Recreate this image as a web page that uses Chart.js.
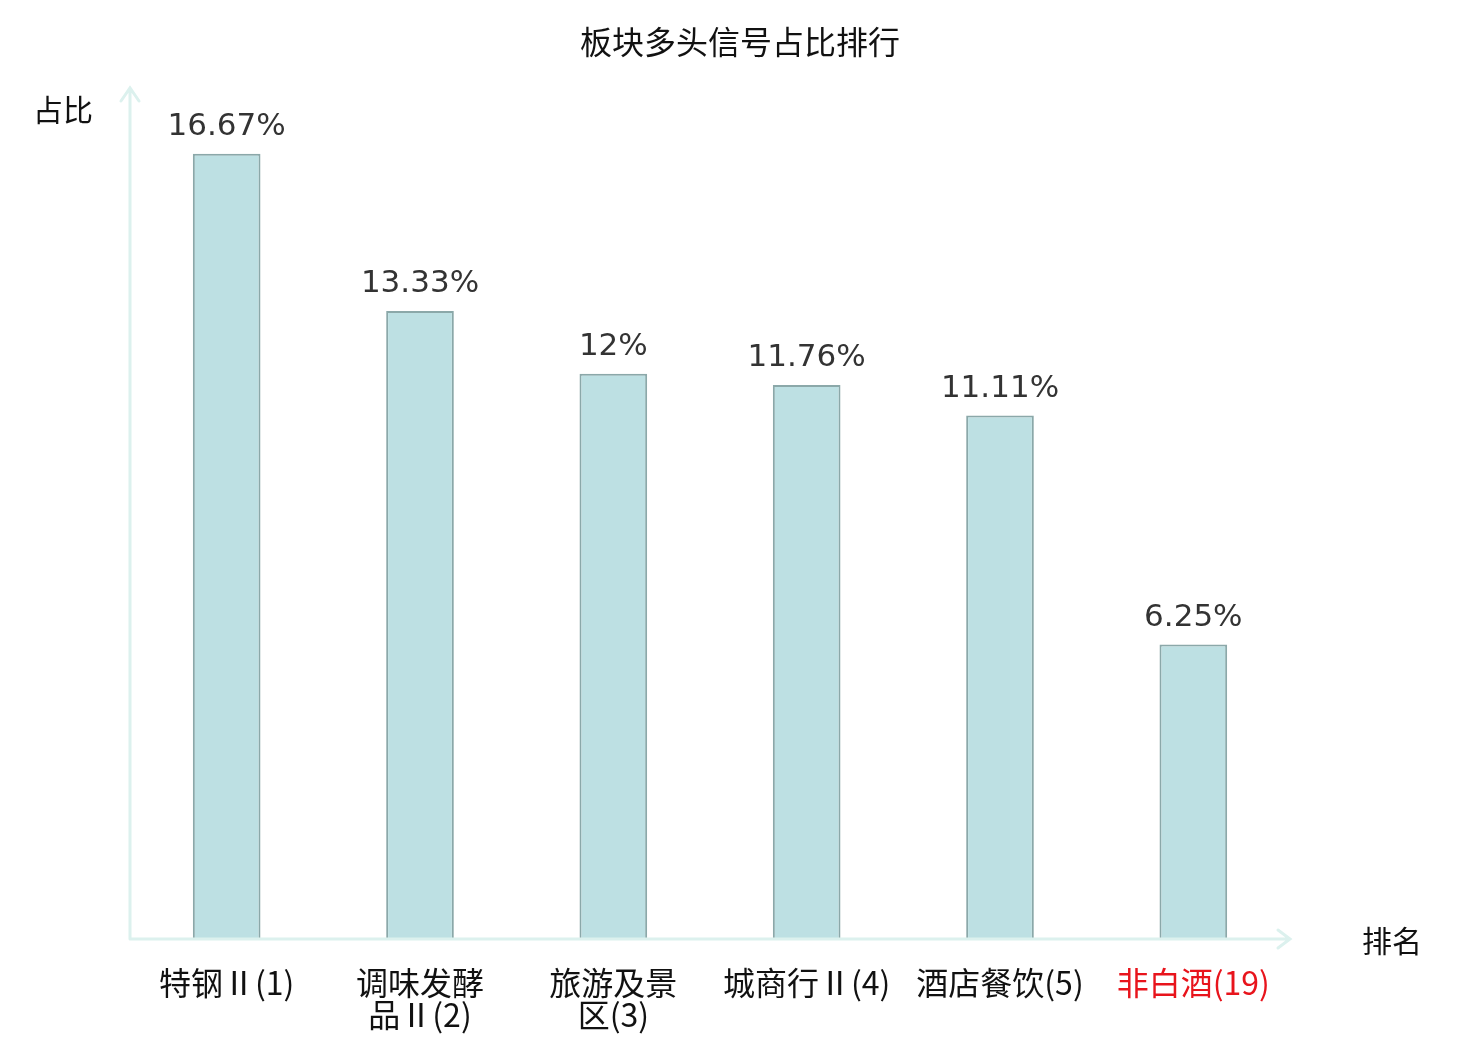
<!DOCTYPE html>
<html>
<head>
<meta charset="utf-8">
<script src="https://cdn.jsdelivr.net/npm/chart.js@4"></script>
<style>
  html, body { margin: 0; padding: 0; background: #fff; }
  #wrap { width: 1480px; height: 1040px; }
</style>
</head>
<body>
<div id="wrap"><canvas id="rankChart" width="1480" height="1040"></canvas></div>
<script>
// sector names, split into the lines shown under the axis
const categories = [
  ['特钢Ⅱ(1)'],
  ['调味发酵', '品Ⅱ(2)'],
  ['旅游及景', '区(3)'],
  ['城商行Ⅱ(4)'],
  ['酒店餐饮(5)'],
  ['非白酒(19)']
];
const shares = [16.67, 13.33, 12, 11.76, 11.11, 6.25];
const shareLabels = ['16.67%', '13.33%', '12%', '11.76%', '11.11%', '6.25%'];
const highlighted = [false, false, false, false, false, true];

const CJK = '"Noto Sans CJK SC", "Noto Sans", sans-serif';

const drawExtras = {
  id: 'drawExtras',
  afterDatasetsDraw(chart) {
    const ctx = chart.ctx;
    const area = chart.chartArea;
    const xs = chart.scales.x;
    const ys = chart.scales.y;
    const meta = chart.getDatasetMeta(0);

    ctx.save();
    // axes with arrows
    ctx.strokeStyle = '#dcf1ee';
    ctx.lineWidth = 3;
    ctx.lineCap = 'round';
    ctx.beginPath();
    ctx.moveTo(area.left, area.bottom);
    ctx.lineTo(area.left, area.top - 3);
    ctx.moveTo(area.left - 9, area.top + 10);
    ctx.lineTo(area.left, area.top - 3);
    ctx.lineTo(area.left + 9, area.top + 10);
    ctx.moveTo(area.left, area.bottom);
    ctx.lineTo(area.right, area.bottom);
    ctx.moveTo(area.right - 12, area.bottom - 9);
    ctx.lineTo(area.right, area.bottom);
    ctx.lineTo(area.right - 12, area.bottom + 9);
    ctx.stroke();

    // value labels over bars
    ctx.fillStyle = '#333';
    ctx.font = '31px "DejaVu Sans", sans-serif';
    ctx.textAlign = 'center';
    ctx.textBaseline = 'alphabetic';
    meta.data.forEach(function(bar, i) {
      ctx.fillText(shareLabels[i], bar.x, ys.getPixelForValue(shares[i]) - 19);
    });

    // category labels under the axis
    ctx.font = '32px ' + CJK;
    ctx.textBaseline = 'middle';
    categories.forEach(function(lines, i) {
      ctx.fillStyle = highlighted[i] ? '#e8141c' : '#111';
      const cx = xs.getPixelForValue(i);
      lines.forEach(function(line, j) {
        ctx.fillText(line, cx, area.bottom + 44 + j * 32);
      });
    });

    // title and axis names
    ctx.fillStyle = '#111';
    ctx.font = '32px ' + CJK;
    ctx.fillText('板块多头信号占比排行', 740, 42);
    ctx.font = '30px ' + CJK;
    ctx.fillText('占比', 63, 110);
    ctx.fillText('排名', 1392, 941);
    ctx.restore();
  }
};

new Chart(document.getElementById('rankChart'), {
  type: 'bar',
  data: {
    labels: categories,
    datasets: [{
      data: shares,
      backgroundColor: '#bde0e3',
      borderColor: '#8ba8a9',
      borderWidth: 2,
      borderSkipped: 'bottom',
      categoryPercentage: 1,
      barPercentage: 0.35
    }]
  },
  options: {
    responsive: false,
    animation: false,
    layout: { padding: { left: 130, right: 190, top: 91, bottom: 101 } },
    plugins: {
      legend: { display: false },
      title: { display: false },
      tooltip: { enabled: false }
    },
    scales: {
      x: { display: false },
      y: { display: false, min: 0, max: 18 }
    }
  },
  plugins: [drawExtras]
});
</script>
</body>
</html>
